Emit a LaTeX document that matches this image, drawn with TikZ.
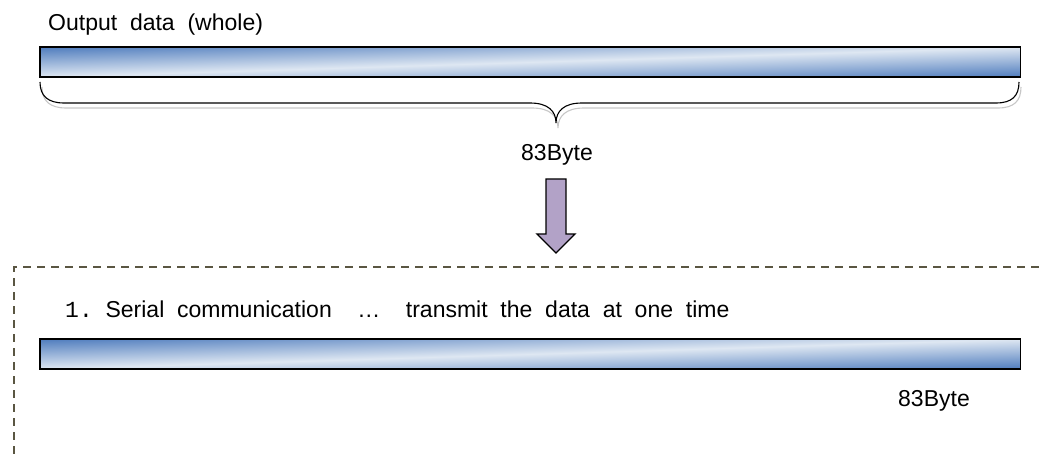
\documentclass[tikz,border=0pt]{standalone}
\usepackage{fontspec}
\setmainfont{Liberation Sans}
\newfontfamily\numfont{Liberation Mono}
\usepackage{tikz}
\usetikzlibrary{positioning}

\definecolor{barblue}{RGB}{80,125,190}
\definecolor{barlight}{RGB}{222,231,242}
\definecolor{arrowpurple}{RGB}{178,162,199}
\definecolor{frameolive}{RGB}{90,86,66}
\pgfdeclareverticalshading{barfill}{100bp}{color(0bp)=(barblue); color(14.6bp)=(barblue); color(50bp)=(barlight); color(85.4bp)=(barblue); color(100bp)=(barblue)}

\tikzset{
  databar/.style={minimum width=980, minimum height=30, inner sep=0, anchor=north west},
  bytetext/.style={font=\fontsize{23}{28}\selectfont, inner sep=0},
  blockarrow/.style={draw=black, line width=1.3, fill=arrowpurple},
}

\begin{document}
\begin{tikzpicture}[x=1pt, y=-1pt]
\useasboundingbox (0,0) rectangle (1045,454);

\node[bytetext, anchor=base west] (wholetitle) at (48,31) {Output\ \ data\ \ (whole)};
\node[databar] (wholebar) at (40,47) {};
\node[databar] (serialbar) at (40,339) {};

\foreach \bar in {wholebar, serialbar} {
	\begin{scope}[transform canvas={shift={(\bar.north west)}, xscale=32.6667}]
		\shade[shading=barfill, shading angle=45] (0,0) rectangle (30,30);
	\end{scope}
	\draw[line width=1.8] (\bar.north west) rectangle (\bar.south east);
}

\foreach \dx/\dy/\col in {2/5/black!22, 0/0/black}
	\draw[\col, line width=1.1, shift={(\dx,\dy)}] (40,82) .. controls (40,96) and (48,103) .. (64,103)
		-- (530,103) .. controls (548,103) and (556,111) .. (556,123)
		.. controls (556,111) and (564,103) .. (582,103)
		-- (996,103) .. controls (1012,103) and (1019,96) .. (1019,82);

\node[bytetext, anchor=base] (wholebytes) at (557,161) {83Byte};

\coordinate (arrowtop) at (556,179);
\draw[blockarrow] (arrowtop) ++(-10,0) -- ++(20,0) -- ++(0,55) -- ++(9,0) -- ++(-19,19)
	-- ++(-19,-19) -- ++(9,0) -- cycle;

\draw[frameolive, line width=1.4, dash pattern=on 8pt off 6pt] (14,454) -- (14,267) -- (1045,267);

\node[bytetext, anchor=base west] (serialtitle) at (65,318)
	{{\numfont 1.}\ \ Serial\ \ communication\ \ \ \ …\ \ \ \ transmit\ \ the\ \ data\ \ at\ \ one\ \ time};
\node[bytetext, anchor=base] (serialbytes) at (934,407) {83Byte};
\end{tikzpicture}
\end{document}
